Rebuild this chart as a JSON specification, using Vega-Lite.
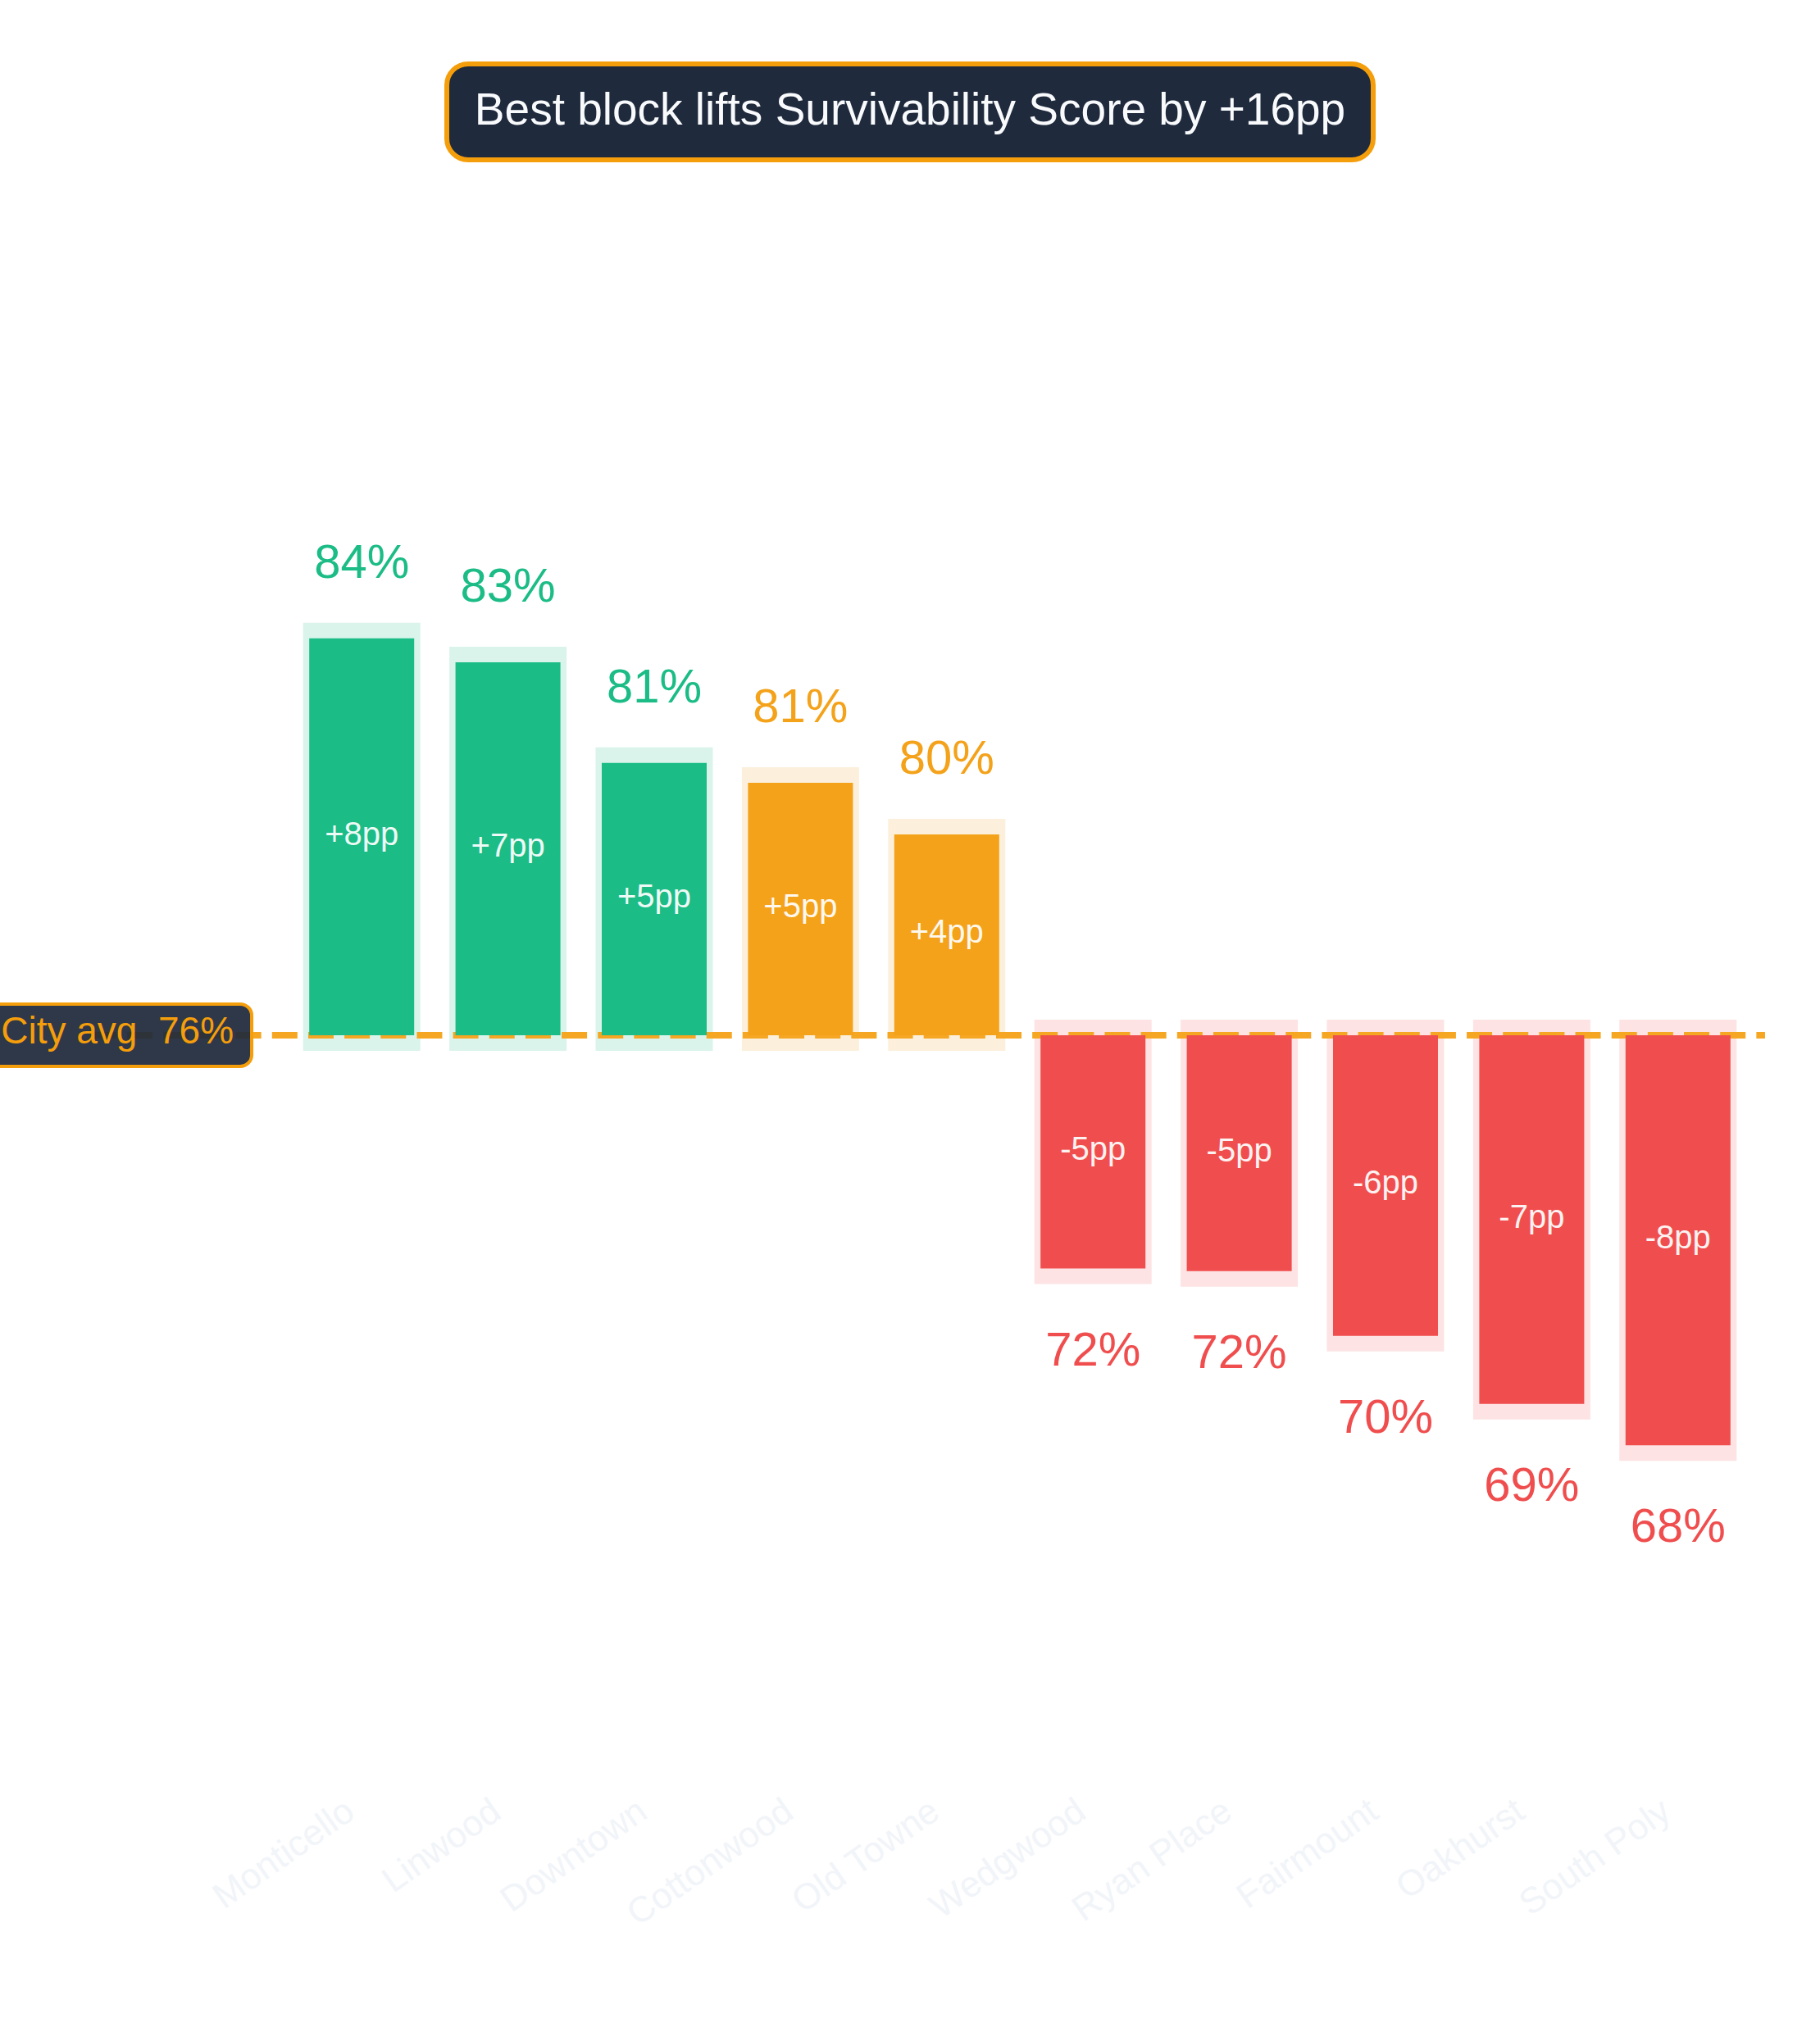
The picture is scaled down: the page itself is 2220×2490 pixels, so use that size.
{
  "$schema": "https://vega.github.io/schema/vega-lite/v6.json",
  "width": 2220,
  "height": 2175,
  "autosize": {"type": "none"},
  "padding": {"left": 0, "top": 0, "right": 0, "bottom": 315},
  "background": "#ffffff",
  "config": {"view": {"stroke": null}, "font": "Liberation Sans", "text": {"font": "Liberation Sans"}},
  "data": {
    "values": [
      {"block": "Monticello", "score": 0.8392, "city": 0.7615, "tier": "strong", "delta": "+8pp"},
      {"block": "Linwood", "score": 0.8345, "city": 0.7615, "tier": "strong", "delta": "+7pp"},
      {"block": "Downtown", "score": 0.8148, "city": 0.7615, "tier": "strong", "delta": "+5pp"},
      {"block": "Cottonwood", "score": 0.8109, "city": 0.7615, "tier": "moderate", "delta": "+5pp"},
      {"block": "Old Towne", "score": 0.8008, "city": 0.7615, "tier": "moderate", "delta": "+4pp"},
      {"block": "Wedgwood", "score": 0.7158, "city": 0.7615, "tier": "below", "delta": "-5pp"},
      {"block": "Ryan Place", "score": 0.7153, "city": 0.7615, "tier": "below", "delta": "-5pp"},
      {"block": "Fairmount", "score": 0.7026, "city": 0.7615, "tier": "below", "delta": "-6pp"},
      {"block": "Oakhurst", "score": 0.6893, "city": 0.7615, "tier": "below", "delta": "-7pp"},
      {"block": "South Poly", "score": 0.6812, "city": 0.7615, "tier": "below", "delta": "-8pp"}
    ]
  },
  "resolve": {"scale": {"x": "independent"}},
  "layer": [
    {
      "mark": {"type": "bar", "width": {"band": 0.5886}, "strokeWidth": 38, "strokeJoin": "miter"},
      "encoding": {
        "x": {
          "field": "block", "type": "nominal", "sort": null,
          "scale": {"domain": ["Monticello", "Linwood", "Downtown", "Cottonwood", "Old Towne", "Wedgwood", "Ryan Place", "Fairmount", "Oakhurst", "South Poly"], "range": [352, 2136], "paddingInner": 0, "paddingOuter": 0},
          "axis": {
            "orient": "bottom", "title": null, "labelAngle": -35, "labelAlign": "right", "labelBaseline": "top",
            "labelFontSize": 44, "labelFont": "Liberation Sans", "labelColor": "#f1f4f8", "labelLimit": 0,
            "labelOffset": -26, "ticks": false, "domain": false, "grid": false, "labelPadding": 12
          }
        },
        "y": {"field": "score", "type": "quantitative", "scale": {"domain": [0.6151, 0.9642], "nice": false, "zero": false}, "axis": null},
        "y2": {"field": "city"},
        "fill": {"field": "tier", "type": "nominal", "scale": {"domain": ["strong", "moderate", "below"], "range": ["#daf4eb", "#fcf0dc", "#fde3e4"]}, "legend": null},
        "stroke": {"field": "tier", "type": "nominal", "scale": {"domain": ["strong", "moderate", "below"], "range": ["#daf4eb", "#fcf0dc", "#fde3e4"]}, "legend": null}
      }
    },
    {
      "data": {"values": [{"label": "City avg\u00a0\u00a076%", "city": 0.7615}]},
      "mark": {"type": "rule", "color": "#f5a623", "strokeWidth": 8, "strokeDash": [31, 13.16]},
      "encoding": {
        "x": {"datum": 5.0, "type": "quantitative", "scale": {"domain": [0, 100], "nice": false, "zero": false}, "axis": null},
        "x2": {"datum": 96.98},
        "y": {"field": "city", "type": "quantitative", "scale": {"domain": [0.6151, 0.9642], "nice": false, "zero": false}, "axis": null}
      }
    },
    {
      "mark": {"type": "bar", "width": {"band": 0.7175}},
      "encoding": {
        "x": {"field": "block", "type": "nominal", "sort": null, "scale": {"domain": ["Monticello", "Linwood", "Downtown", "Cottonwood", "Old Towne", "Wedgwood", "Ryan Place", "Fairmount", "Oakhurst", "South Poly"], "range": [352, 2136], "paddingInner": 0, "paddingOuter": 0}, "axis": null},
        "y": {"field": "score", "type": "quantitative", "scale": {"domain": [0.6151, 0.9642], "nice": false, "zero": false}, "axis": null},
        "y2": {"field": "city"},
        "color": {"field": "tier", "type": "nominal", "scale": {"domain": ["strong", "moderate", "below"], "range": ["#1bbc86", "#f4a21a", "#f04e4e"]}, "legend": null}
      }
    },
    {
      "transform": [{"fold": ["score", "city"], "as": ["end", "level"]}],
      "mark": {"type": "text", "fontSize": 40, "color": "#ffffff", "opacity": 0.93, "align": "center", "baseline": "alphabetic", "dy": 10},
      "encoding": {
        "x": {"field": "block", "type": "nominal", "sort": null, "scale": {"domain": ["Monticello", "Linwood", "Downtown", "Cottonwood", "Old Towne", "Wedgwood", "Ryan Place", "Fairmount", "Oakhurst", "South Poly"], "range": [352, 2136], "paddingInner": 0, "paddingOuter": 0}, "axis": null},
        "y": {"aggregate": "mean", "field": "level", "type": "quantitative", "scale": {"domain": [0.6151, 0.9642], "nice": false, "zero": false}, "axis": null},
        "text": {"field": "delta", "type": "nominal"}
      }
    },
    {
      "transform": [{"filter": "datum.score >= datum.city"}],
      "mark": {"type": "text", "fontSize": 58, "align": "center", "baseline": "alphabetic", "dy": -74},
      "encoding": {
        "x": {"field": "block", "type": "nominal", "sort": null, "scale": {"domain": ["Monticello", "Linwood", "Downtown", "Cottonwood", "Old Towne", "Wedgwood", "Ryan Place", "Fairmount", "Oakhurst", "South Poly"], "range": [352, 2136], "paddingInner": 0, "paddingOuter": 0}, "axis": null},
        "y": {"field": "score", "type": "quantitative", "scale": {"domain": [0.6151, 0.9642], "nice": false, "zero": false}, "axis": null},
        "text": {"field": "score", "type": "quantitative", "format": ".0%"},
        "color": {"field": "tier", "type": "nominal", "scale": {"domain": ["strong", "moderate", "below"], "range": ["#1bbc86", "#f4a21a", "#f04e4e"]}, "legend": null}
      }
    },
    {
      "transform": [{"filter": "datum.score < datum.city"}],
      "mark": {"type": "text", "fontSize": 58, "align": "center", "baseline": "alphabetic", "dy": 118},
      "encoding": {
        "x": {"field": "block", "type": "nominal", "sort": null, "scale": {"domain": ["Monticello", "Linwood", "Downtown", "Cottonwood", "Old Towne", "Wedgwood", "Ryan Place", "Fairmount", "Oakhurst", "South Poly"], "range": [352, 2136], "paddingInner": 0, "paddingOuter": 0}, "axis": null},
        "y": {"field": "score", "type": "quantitative", "scale": {"domain": [0.6151, 0.9642], "nice": false, "zero": false}, "axis": null},
        "text": {"field": "score", "type": "quantitative", "format": ".0%"},
        "color": {"field": "tier", "type": "nominal", "scale": {"domain": ["strong", "moderate", "below"], "range": ["#1bbc86", "#f4a21a", "#f04e4e"]}, "legend": null}
      }
    },
    {
      "data": {"values": [{"label": "City avg\u00a0\u00a076%", "city": 0.7615}]},
      "mark": {"type": "rect", "cornerRadius": 14, "fill": "#1e293b", "fillOpacity": 0.93, "stroke": "#f59e0b", "strokeWidth": 4},
      "encoding": {
        "x": {"datum": -1, "type": "quantitative", "scale": {"domain": [0, 100], "nice": false, "zero": false}, "axis": null},
        "x2": {"datum": 13.83},
        "y": {"datum": 0.7676, "type": "quantitative", "scale": {"domain": [0.6151, 0.9642], "nice": false, "zero": false}, "axis": null},
        "y2": {"datum": 0.7554}
      }
    },
    {
      "data": {"values": [{"label": "City avg\u00a0\u00a076%", "city": 0.7615}]},
      "mark": {"type": "text", "fontSize": 46, "color": "#f59e0b", "align": "right", "baseline": "alphabetic", "dy": 10},
      "encoding": {
        "x": {"datum": 12.84, "type": "quantitative", "scale": {"domain": [0, 100], "nice": false, "zero": false}, "axis": null},
        "y": {"field": "city", "type": "quantitative", "scale": {"domain": [0.6151, 0.9642], "nice": false, "zero": false}, "axis": null},
        "text": {"field": "label", "type": "nominal"}
      }
    },
    {
      "data": {"values": [{"headline": "Best block lifts Survivability Score by +16pp"}]},
      "mark": {"type": "rect", "cornerRadius": 26, "fill": "#1f2a3d", "stroke": "#f59e0b", "strokeWidth": 6},
      "encoding": {
        "x": {"datum": 24.55, "type": "quantitative", "scale": {"domain": [0, 100], "nice": false, "zero": false}, "axis": null},
        "x2": {"datum": 75.45},
        "y": {"datum": 0.9517, "type": "quantitative", "scale": {"domain": [0.6151, 0.9642], "nice": false, "zero": false}, "axis": null},
        "y2": {"datum": 0.9329}
      }
    },
    {
      "data": {"values": [{"headline": "Best block lifts Survivability Score by +16pp"}]},
      "mark": {"type": "text", "fontSize": 55, "color": "#f8fafc", "align": "center", "baseline": "alphabetic"},
      "encoding": {
        "x": {"datum": 50, "type": "quantitative", "scale": {"domain": [0, 100], "nice": false, "zero": false}, "axis": null},
        "y": {"datum": 0.9398, "type": "quantitative", "scale": {"domain": [0.6151, 0.9642], "nice": false, "zero": false}, "axis": null},
        "text": {"field": "headline", "type": "nominal"}
      }
    }
  ]
}
